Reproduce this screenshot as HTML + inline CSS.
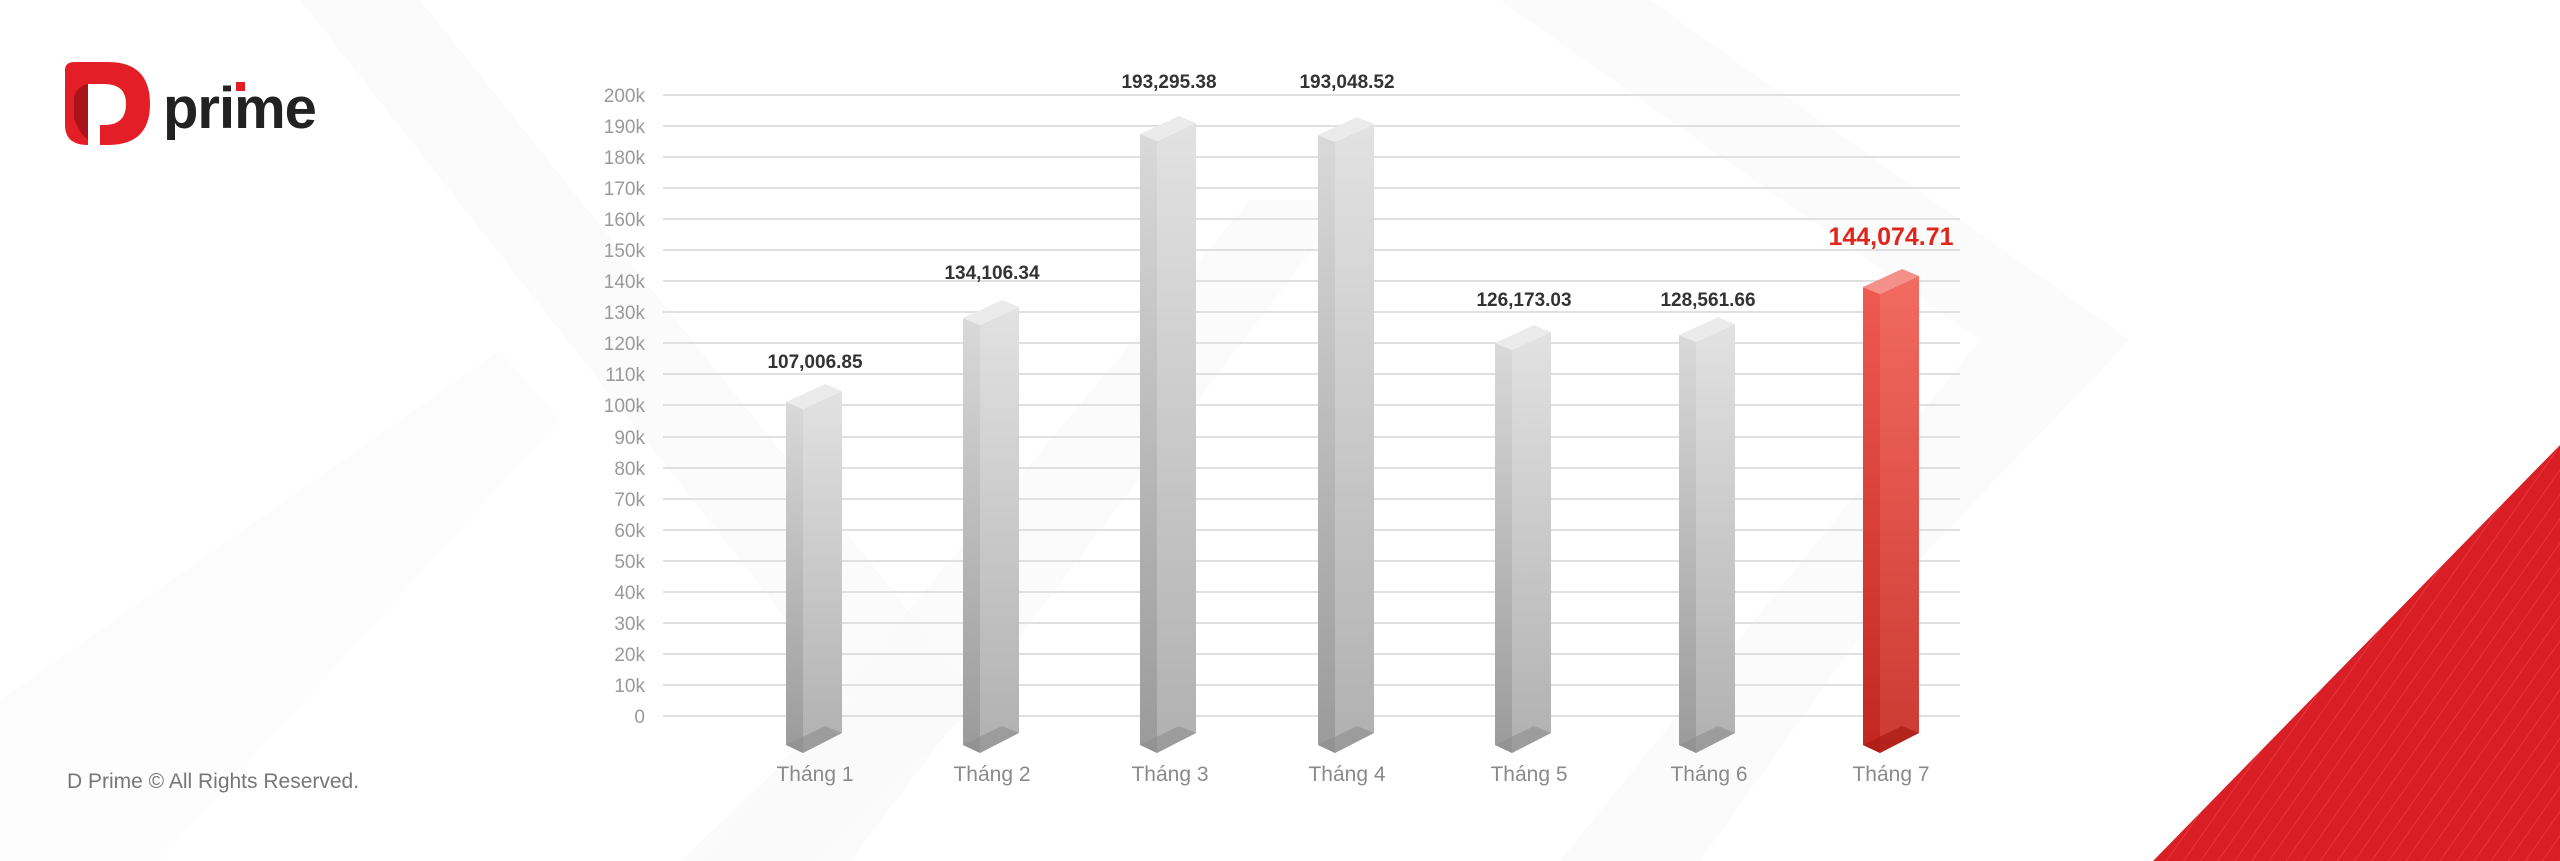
<!DOCTYPE html>
<html><head><meta charset="utf-8"><style>
html,body{margin:0;padding:0;background:#fff;}
svg{display:block;}
text{font-family:"Liberation Sans",sans-serif;}
</style></head><body>
<svg width="2560" height="861" viewBox="0 0 2560 861" xmlns="http://www.w3.org/2000/svg">
<defs>
<linearGradient id="gl" x1="0" y1="0" x2="0" y2="1"><stop offset="0" stop-color="#d9d9d9"/><stop offset="1" stop-color="#9a9a9a"/></linearGradient>
<linearGradient id="gr" x1="0" y1="0" x2="0" y2="1"><stop offset="0" stop-color="#e2e2e2"/><stop offset="1" stop-color="#b0b0b0"/></linearGradient>
<linearGradient id="rl" x1="0" y1="0" x2="0" y2="1"><stop offset="0" stop-color="#ef5a50"/><stop offset="1" stop-color="#c1271f"/></linearGradient>
<linearGradient id="rr" x1="0" y1="0" x2="0" y2="1"><stop offset="0" stop-color="#f26a60"/><stop offset="1" stop-color="#cc3a32"/></linearGradient>
<linearGradient id="bgs" x1="0" y1="0" x2="1" y2="1"><stop offset="0" stop-color="#f6f6f6"/><stop offset="1" stop-color="#ffffff"/></linearGradient>
<pattern id="stripe" width="14" height="14" patternUnits="userSpaceOnUse" patternTransform="rotate(35)"><rect width="14" height="14" fill="#d91e25"/><rect width="1" height="14" fill="#e4363c"/></pattern>
</defs>
<rect width="2560" height="861" fill="#fff"/>
<polygon points="300,0 420,0 980,700 820,861 680,861 850,700" fill="#f9f9f9" opacity="0.6"/>
<polygon points="0,861 0,700 500,350 560,420 160,861" fill="url(#bgs)" opacity="0.5"/>
<polygon points="1500,0 1650,0 2130,340 1900,580 1700,861 1560,861 1980,340" fill="#fafafa" opacity="0.7"/>
<polygon points="700,861 1250,200 1350,200 850,861" fill="#fafafa" opacity="0.7"/>
<polygon points="2153,861 2560,445 2560,861" fill="url(#stripe)"/>
<path d="M65,70 Q65,62 75,62 L108,62 Q150,62 150,104 Q150,145 108,145 L100,145 L100,125 L104,125 Q126,125 126,104 Q126,84 104,84 L88,84 L88,145 Q65,145 65,125 Z" fill="#e41e26"/>
<path d="M88,84 L88,140 Q78,132 74,118 L74,96 Q78,86 88,84Z" fill="#a8141a"/>
<text x="163" y="128" font-size="58" font-weight="bold" fill="#222" letter-spacing="-1">prime</text>
<rect x="236" y="82" width="9" height="9" fill="#e41e26"/>
<text x="67" y="788" font-size="21" fill="#777">D Prime © All Rights Reserved.</text>
<g stroke="#e0e0e0" stroke-width="2">
<line x1="663" x2="1960" y1="95" y2="95"/><line x1="663" x2="1960" y1="126" y2="126"/><line x1="663" x2="1960" y1="157" y2="157"/><line x1="663" x2="1960" y1="188" y2="188"/><line x1="663" x2="1960" y1="219" y2="219"/><line x1="663" x2="1960" y1="250" y2="250"/><line x1="663" x2="1960" y1="281" y2="281"/><line x1="663" x2="1960" y1="312" y2="312"/><line x1="663" x2="1960" y1="343" y2="343"/><line x1="663" x2="1960" y1="374" y2="374"/><line x1="663" x2="1960" y1="405" y2="405"/><line x1="663" x2="1960" y1="437" y2="437"/><line x1="663" x2="1960" y1="468" y2="468"/><line x1="663" x2="1960" y1="499" y2="499"/><line x1="663" x2="1960" y1="530" y2="530"/><line x1="663" x2="1960" y1="561" y2="561"/><line x1="663" x2="1960" y1="592" y2="592"/><line x1="663" x2="1960" y1="623" y2="623"/><line x1="663" x2="1960" y1="654" y2="654"/><line x1="663" x2="1960" y1="685" y2="685"/><line x1="663" x2="1960" y1="716" y2="716"/>
</g>
<g font-size="19" fill="#9a9a9a" text-anchor="end">
<text x="645" y="102">200k</text><text x="645" y="133">190k</text><text x="645" y="164">180k</text><text x="645" y="195">170k</text><text x="645" y="226">160k</text><text x="645" y="257">150k</text><text x="645" y="288">140k</text><text x="645" y="319">130k</text><text x="645" y="350">120k</text><text x="645" y="381">110k</text><text x="645" y="412">100k</text><text x="645" y="444">90k</text><text x="645" y="475">80k</text><text x="645" y="506">70k</text><text x="645" y="537">60k</text><text x="645" y="568">50k</text><text x="645" y="599">40k</text><text x="645" y="630">30k</text><text x="645" y="661">20k</text><text x="645" y="692">10k</text><text x="645" y="723">0</text>
</g>
<g>
<g>
<polygon points="786,402 803,409 803,753 786,745" fill="url(#gl)"/>
<polygon points="803,409 842,391 842,733 803,753" fill="url(#gr)"/>
<polygon points="786,402 803,409 842,391 825,384" fill="#ebebeb"/>
<polygon points="786,745 803,753 842,733 825,726" fill="#8e8e8e" opacity="0.6"/>
</g>
<g>
<polygon points="963,318 980,325 980,753 963,745" fill="url(#gl)"/>
<polygon points="980,325 1019,307 1019,733 980,753" fill="url(#gr)"/>
<polygon points="963,318 980,325 1019,307 1002,300" fill="#ebebeb"/>
<polygon points="963,745 980,753 1019,733 1002,726" fill="#8e8e8e" opacity="0.6"/>
</g>
<g>
<polygon points="1140,134 1157,141 1157,753 1140,745" fill="url(#gl)"/>
<polygon points="1157,141 1196,123 1196,733 1157,753" fill="url(#gr)"/>
<polygon points="1140,134 1157,141 1196,123 1179,116" fill="#ebebeb"/>
<polygon points="1140,745 1157,753 1196,733 1179,726" fill="#8e8e8e" opacity="0.6"/>
</g>
<g>
<polygon points="1318,135 1335,142 1335,753 1318,745" fill="url(#gl)"/>
<polygon points="1335,142 1374,124 1374,733 1335,753" fill="url(#gr)"/>
<polygon points="1318,135 1335,142 1374,124 1357,117" fill="#ebebeb"/>
<polygon points="1318,745 1335,753 1374,733 1357,726" fill="#8e8e8e" opacity="0.6"/>
</g>
<g>
<polygon points="1495,343 1512,350 1512,753 1495,745" fill="url(#gl)"/>
<polygon points="1512,350 1551,332 1551,733 1512,753" fill="url(#gr)"/>
<polygon points="1495,343 1512,350 1551,332 1534,325" fill="#ebebeb"/>
<polygon points="1495,745 1512,753 1551,733 1534,726" fill="#8e8e8e" opacity="0.6"/>
</g>
<g>
<polygon points="1679,335 1696,342 1696,753 1679,745" fill="url(#gl)"/>
<polygon points="1696,342 1735,324 1735,733 1696,753" fill="url(#gr)"/>
<polygon points="1679,335 1696,342 1735,324 1718,317" fill="#ebebeb"/>
<polygon points="1679,745 1696,753 1735,733 1718,726" fill="#8e8e8e" opacity="0.6"/>
</g>
<g>
<polygon points="1863,287 1880,294 1880,753 1863,745" fill="url(#rl)"/>
<polygon points="1880,294 1919,276 1919,733 1880,753" fill="url(#rr)"/>
<polygon points="1863,287 1880,294 1919,276 1902,269" fill="#f4908a"/>
<polygon points="1863,745 1880,753 1919,733 1902,726" fill="#a81a14" opacity="0.7"/>
</g>
</g>
<g font-size="19" font-weight="bold" fill="#333" text-anchor="middle">
<text x="815" y="368">107,006.85</text>
<text x="992" y="279">134,106.34</text>
<text x="1169" y="88">193,295.38</text>
<text x="1347" y="88">193,048.52</text>
<text x="1524" y="306">126,173.03</text>
<text x="1708" y="306">128,561.66</text>
</g>
<text x="1891" y="245" font-size="25" font-weight="bold" fill="#e0251b" text-anchor="middle">144,074.71</text>
<g font-size="21" fill="#8a8a8a" text-anchor="middle">
<text x="815" y="781">Tháng 1</text>
<text x="992" y="781">Tháng 2</text>
<text x="1170" y="781">Tháng 3</text>
<text x="1347" y="781">Tháng 4</text>
<text x="1529" y="781">Tháng 5</text>
<text x="1709" y="781">Tháng 6</text>
<text x="1891" y="781">Tháng 7</text>
</g>
</svg>
</body></html>
